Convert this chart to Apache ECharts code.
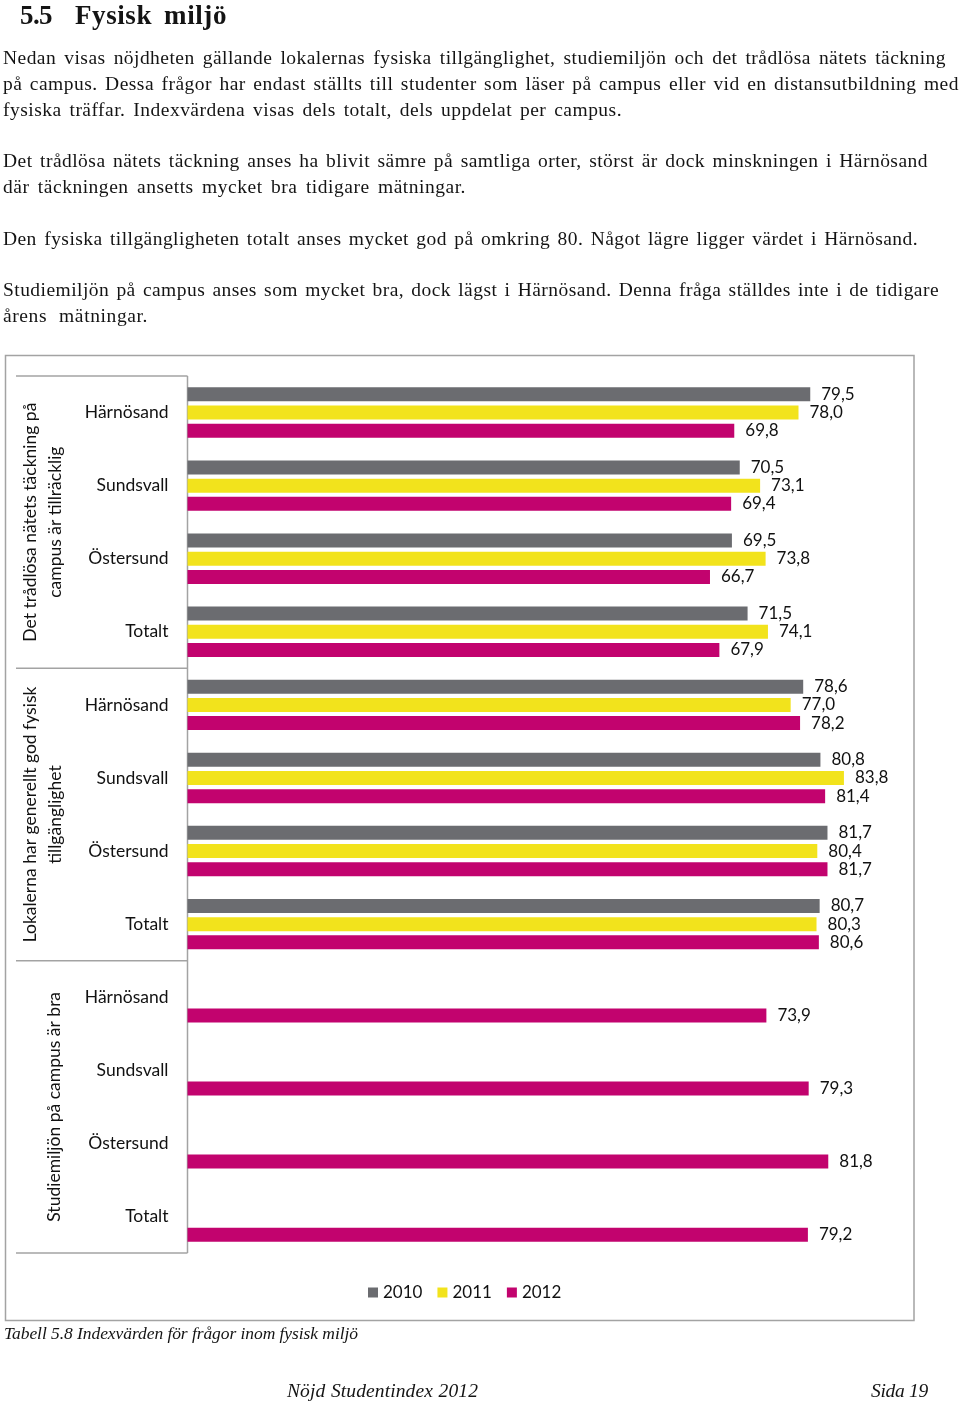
<!DOCTYPE html>
<html><head><meta charset="utf-8">
<script src="https://cdn.jsdelivr.net/npm/echarts@6/dist/echarts.min.js"></script>
<style>
html,body{margin:0;padding:0;background:#fff;}
#page{position:relative;width:960px;height:1405px;overflow:hidden;background:#fff;}
#chart{position:absolute;left:0;top:0;width:960px;height:1405px;}
.t{position:absolute;white-space:nowrap;color:#141414;font-family:"Liberation Serif",serif;}
</style></head><body>
<div id="page"><div id="chart"></div></div>
<script>
// ---------- data ----------
const years = ['2010', '2011', '2012'];
const questions = [
  ['Det trådlösa nätets täckning på', 'campus är tillräcklig'],
  ['Lokalerna har generellt god fysisk', 'tillgänglighet'],
  ['Studiemiljön på campus är bra']
];
const campuses = ['Härnösand', 'Sundsvall', 'Östersund', 'Totalt'];
const values2010 = [79.5, 70.5, 69.5, 71.5, 78.6, 80.8, 81.7, 80.7, null, null, null, null];
const values2011 = [78.0, 73.1, 73.8, 74.1, 77.0, 83.8, 80.4, 80.3, null, null, null, null];
const values2012 = [69.8, 69.4, 66.7, 67.9, 78.2, 81.4, 81.7, 80.6, 73.9, 79.3, 81.8, 79.2];

// ---------- page text ----------
const pageText = [
  {text: '5.5', x: 20, right: 52, base: 25, size: 27, cls: 'b'},
  {text: 'Fysisk miljö', x: 75, right: 227, base: 25, size: 27, cls: 'b'},
  {text: 'Nedan visas nöjdheten gällande lokalernas fysiska tillgänglighet, studiemiljön och det trådlösa nätets täckning', x: 3, right: 946, base: 64.5},
  {text: 'på campus. Dessa frågor har endast ställts till studenter som läser på campus eller vid en distansutbildning med', x: 3, right: 959, base: 90.3},
  {text: 'fysiska träffar. Indexvärdena visas dels totalt, dels uppdelat per campus.', x: 3, right: 622, base: 116.1},
  {text: 'Det trådlösa nätets täckning anses ha blivit sämre på samtliga orter, störst är dock minskningen i Härnösand', x: 3, right: 928, base: 167.7},
  {text: 'där täckningen ansetts mycket bra tidigare mätningar.', x: 3, right: 466, base: 193.5},
  {text: 'Den fysiska tillgängligheten totalt anses mycket god på omkring 80. Något lägre ligger värdet i Härnösand.', x: 3, right: 918, base: 245.1},
  {text: 'Studiemiljön på campus anses som mycket bra, dock lägst i Härnösand. Denna fråga ställdes inte i de tidigare', x: 3, right: 939, base: 296.7},
  {text: 'årens mätningar.', x: 3, right: 148, base: 322.5},
  {text: 'Tabell 5.8 Indexvärden för frågor inom fysisk miljö', x: 4, right: 358, base: 1340, size: 17.5, cls: 'i'},
  {text: 'Nöjd Studentindex 2012', x: 287, right: 478, base: 1397, size: 19.5, cls: 'i'},
  {text: 'Sida 19', x: 871, right: 928, base: 1397, size: 19.5, cls: 'i'}
];
const page = document.getElementById('page');
const textEls = pageText.map(function (d) {
  const el = document.createElement('div');
  el.className = 't';
  const size = d.size || 19.5;
  el.style.fontSize = size + 'px';
  el.style.lineHeight = size + 'px';
  if (d.cls === 'b') el.style.fontWeight = 'bold';
  if (d.cls === 'i') el.style.fontStyle = 'italic';
  el.style.left = d.x + 'px';
  el.style.top = (d.base - size * 0.8375) + 'px';
  el.textContent = d.text;
  page.appendChild(el);
  return {el: el, d: d};
});
function fitText() {
  textEls.forEach(function (o) {
    o.el.style.letterSpacing = '0px';
    o.el.style.wordSpacing = '0px';
    const w = o.el.getBoundingClientRect().width;
    const n = o.d.text.length;
    const spaces = (o.d.text.match(/ /g) || []).length;
    const extra = o.d.right - o.d.x - w;
    if (spaces > 0 && extra > 0) {
      o.el.style.wordSpacing = (extra * 0.4 / spaces) + 'px';
      o.el.style.letterSpacing = (extra * 0.6 / n) + 'px';
    } else {
      o.el.style.letterSpacing = (extra / n) + 'px';
    }
  });
}
fitText();
if (document.fonts && document.fonts.ready) document.fonts.ready.then(fitText);

// ---------- chart ----------
const COLORS = ['#6b6c70', '#f2e31c', '#c2036e'];
const categories = [];
questions.forEach(function (q, gi) {
  campuses.forEach(function (c) { categories.push(gi + '|' + c); });
});
const seriesValues = [values2010, values2011, values2012];

const gridLeft = 187.5, gridTop = 376, gridHeight = 877, xMax = 90, gridWidth = 705;
const bandH = gridHeight / categories.length;
const boxLeft = 16;
const lineColor = '#a3a3a3';
const labelFont = 'Lato';

const graphics = [];
graphics.push({type: 'rect', shape: {x: 5.5, y: 355.5, width: 908.5, height: 965},
  style: {fill: 'none', stroke: lineColor, lineWidth: 1.5}, silent: true});
graphics.push({type: 'line', shape: {x1: gridLeft, y1: gridTop, x2: gridLeft, y2: gridTop + gridHeight},
  style: {stroke: lineColor, lineWidth: 1.5}, silent: true});
for (let g = 0; g <= questions.length; g++) {
  const y = gridTop + g * campuses.length * bandH;
  graphics.push({type: 'line', shape: {x1: boxLeft, y1: y, x2: gridLeft, y2: y},
    style: {stroke: lineColor, lineWidth: 1.5}, silent: true});
}
questions.forEach(function (q, gi) {
  const cy = gridTop + (gi + 0.5) * campuses.length * bandH;
  const xs = q.length === 2 ? [30, 55] : [54];
  q.forEach(function (line, li) {
    graphics.push({type: 'text', x: xs[li], y: cy, rotation: Math.PI / 2, silent: true,
      style: {text: line, x: 0, y: 0, textAlign: 'center', textVerticalAlign: 'middle',
        align: 'center', verticalAlign: 'middle',
        fontFamily: labelFont, fontSize: 17.5, fill: '#111'}});
  });
});

const chart = echarts.init(document.getElementById('chart'), null, {renderer: 'canvas'});
chart.setOption({
  animation: false,
  backgroundColor: 'transparent',
  grid: {left: gridLeft, top: gridTop, width: gridWidth, height: gridHeight, containLabel: false},
  legend: {
    data: years, left: 363, top: 1279, itemWidth: 10, itemHeight: 10, itemGap: 15, icon: 'rect',
    textStyle: {fontFamily: labelFont, fontSize: 17, color: '#111'}
  },
  xAxis: {type: 'value', min: 0, max: xMax, show: false},
  yAxis: {
    type: 'category', inverse: true, data: categories,
    axisLine: {show: false}, axisTick: {show: false}, splitLine: {show: false},
    axisLabel: {margin: 19, fontFamily: labelFont, fontSize: 17.5, color: '#111',
      formatter: function (v) { return v.split('|')[1]; }}
  },
  series: years.map(function (y, i) {
    return {
      name: y, type: 'bar', barWidth: 14, barGap: '30%',
      itemStyle: {color: COLORS[i]},
      data: seriesValues[i].map(function (v) { return v == null ? '-' : v; }),
      label: {show: true, position: 'right', distance: 11, fontFamily: labelFont, fontSize: 17, color: '#111',
        formatter: function (p) { return Number(p.value).toFixed(1).replace('.', ','); }}
    };
  }),
  graphic: {elements: graphics}
});
</script>
</body></html>
